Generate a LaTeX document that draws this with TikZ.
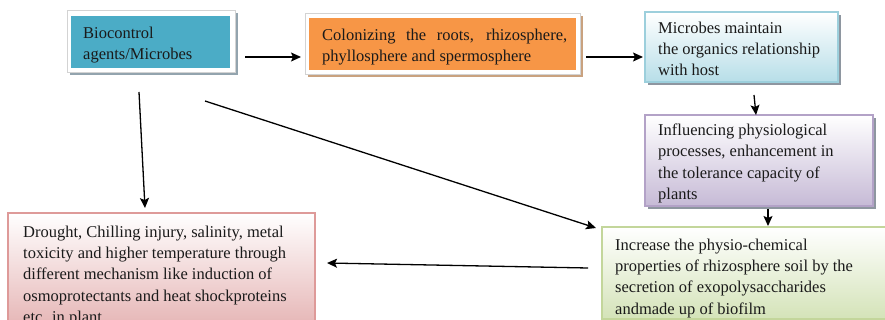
\documentclass[tikz,border=0pt]{standalone}
\usepackage{fontspec}
\setmainfont{Liberation Serif}
\usetikzlibrary{arrows.meta}

\definecolor{fillteal}{HTML}{4BACC6}
\definecolor{fillorange}{HTML}{F79646}
\definecolor{shadeteal}{HTML}{93A4AE}
\definecolor{shadeorange}{HTML}{C9A27F}
\definecolor{framegray}{HTML}{D3D3D3}
\definecolor{blueend}{HTML}{B7DEE8}
\definecolor{blueline}{HTML}{9CCFDC}
\definecolor{purpleend}{HTML}{C6BAD6}
\definecolor{purpleline}{HTML}{B3A2C7}
\definecolor{pinkend}{HTML}{E3AEAE}
\definecolor{pinkline}{HTML}{DE9A99}
\definecolor{greenend}{HTML}{D4E3B8}
\definecolor{greenline}{HTML}{C3D69B}
\definecolor{dropgray}{HTML}{8E96A0}
\definecolor{inkcol}{HTML}{1A1A1A}

\tikzset{
  boxbase/.style={rectangle, anchor=north west, inner sep=0pt, outer sep=0pt},
  whiteframe/.style={boxbase, fill=white, draw=framegray, line width=0.7pt},
  gradbox/.style 2 args={boxbase, top color=white, bottom color=#1, draw=#2, line width=1.2pt},
  lbl/.style={anchor=north west, inner sep=0pt, align=left, text=inkcol,
              font=\fontsize{16.5}{21.3}\selectfont},
  arr/.style={line width=1.3pt, draw=black,
              -{Stealth[length=10pt,width=9pt,inset=2pt]}}
}

\begin{document}
\begin{tikzpicture}[x=1pt,y=-1pt]
\useasboundingbox (0,0) rectangle (885,320);
\clip (0,0) rectangle (885,320);

% Biocontrol agents
\node[boxbase, fill=shadeteal, minimum width=168pt, minimum height=62pt] (b1s) at (70,13) {};
\node[whiteframe, minimum width=168pt, minimum height=62pt] (b1f) at (67,10) {};
\node[boxbase, fill=fillteal, minimum width=159pt, minimum height=52pt] (b1) at (71,16) {};
\node[lbl] (t1) at (83,26.7) {Biocontrol\\agents/Microbes};

% Colonizing
\node[boxbase, fill=shadeorange, minimum width=275pt, minimum height=61pt] (b2s) at (308,16) {};
\node[whiteframe, minimum width=275pt, minimum height=61pt] (b2f) at (305,13) {};
\node[boxbase, fill=fillorange, minimum width=267pt, minimum height=52pt] (b2) at (309,18) {};
\node[lbl, text width=245pt, align=justify] (t2) at (322,28.7)
  {Colonizing the roots, rhizosphere,\linebreak phyllosphere and spermosphere};

% Organic relationship with host
\node[boxbase, fill=dropgray, minimum width=193pt, minimum height=70pt] (b3s) at (648,15) {};
\node[gradbox={blueend}{blueline}, minimum width=193pt, minimum height=70pt] (b3) at (645,12) {};
\node[lbl] (t3) at (658,21.7) {Microbes maintain\\the organics relationship\\with host};

% Physiological processes
\node[boxbase, fill=dropgray, minimum width=228pt, minimum height=91pt] (b4s) at (648,118) {};
\node[gradbox={purpleend}{purpleline}, minimum width=228pt, minimum height=91pt] (b4) at (645,115) {};
\node[lbl] (t4) at (658,123.7) {Influencing physiological\\processes, enhancement in\\the tolerance capacity of\\plants};

% Stress tolerance
\node[gradbox={pinkend}{pinkline}, minimum width=307pt, minimum height=125pt] (b5) at (8,213) {};
\node[lbl] (t5) at (23,225.7) {Drought, Chilling injury, salinity, metal\\toxicity and higher temperature through\\different mechanism like induction of\\osmoprotectants and heat shockproteins\\etc. in plant};

% Rhizosphere soil
\node[gradbox={greenend}{greenline}, minimum width=300pt, minimum height=92pt] (b6) at (602,227) {};
\node[lbl] (t6) at (615,238.7) {Increase the physio-chemical\\properties of rhizosphere soil by the\\secretion of exopolysaccharides\\andmade up of biofilm};

% connector ends
\coordinate (a1s) at (245,57);  \coordinate (a1e) at (301,57);
\coordinate (a2s) at (586,57);  \coordinate (a2e) at (643,57);
\coordinate (a3s) at (754,95);  \coordinate (a3e) at (756,115);
\coordinate (a4s) at (768,209); \coordinate (a4e) at (768,226);
\coordinate (a5s) at (139,92);  \coordinate (a5e) at (145,208);
\coordinate (a6s) at (205,101); \coordinate (a6e) at (596,228);
\coordinate (a7s) at (588,268); \coordinate (a7e) at (327,263);

\draw[arr] (a1s) -- (a1e);
\draw[arr] (a2s) -- (a2e);
\draw[arr] (a3s) -- (a3e);
\draw[arr] (a4s) -- (a4e);
\draw[arr] (a5s) -- (a5e);
\draw[arr] (a6s) -- (a6e);
\draw[arr] (a7s) -- (a7e);
\end{tikzpicture}
\end{document}
